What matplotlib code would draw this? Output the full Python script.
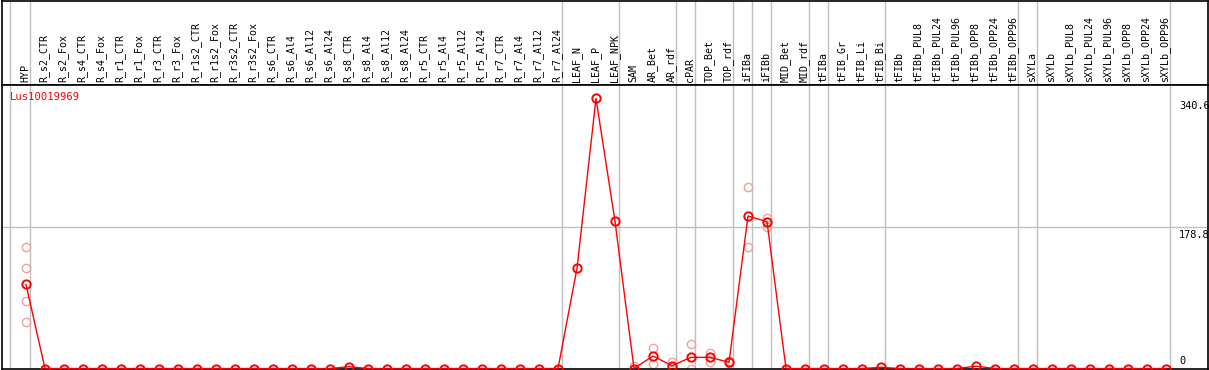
import matplotlib
matplotlib.use('Agg')
import matplotlib.pyplot as plt
import matplotlib.transforms as mtrans

# Sample names along the top
samples = ['HYP', 'R_s2_CTR', 'R_s2_Fox', 'R_s4_CTR', 'R_s4_Fox', 'R_r1_CTR', 'R_r1_Fox',
           'R_r3_CTR', 'R_r3_Fox', 'R_r1s2_CTR', 'R_r1s2_Fox', 'R_r3s2_CTR', 'R_r3s2_Fox',
           'R_s6_CTR', 'R_s6_Al4', 'R_s6_Al12', 'R_s6_Al24', 'R_s8_CTR', 'R_s8_Al4',
           'R_s8_Al12', 'R_s8_Al24', 'R_r5_CTR', 'R_r5_Al4', 'R_r5_Al12', 'R_r5_Al24',
           'R_r7_CTR', 'R_r7_Al4', 'R_r7_Al12', 'R_r7_Al24', 'LEAF_N', 'LEAF_P', 'LEAF_NPK',
           'SAM', 'AR_Bet', 'AR_rdf', 'cPAR', 'TOP_Bet', 'TOP_rdf', 'iFIBa', 'iFIBb',
           'MID_Bet', 'MID_rdf', 'tFIBa', 'tFIB_Gr', 'tFIB_Li', 'tFIB_Bi', 'tFIBb',
           'tFIBb_PUL8', 'tFIBb_PUL24', 'tFIBb_PUL96', 'tFIBb_OPP8', 'tFIBb_OPP24',
           'tFIBb_OPP96', 'sXYLa', 'sXYLb', 'sXYLb_PUL8', 'sXYLb_PUL24', 'sXYLb_PUL96',
           'sXYLb_OPP8', 'sXYLb_OPP24', 'sXYLb_OPP96']

# Mean expression per sample
means = [106.0, 0, 0, 0, 0, 0, 0,
         0, 0, 0, 0, 0, 0,
         0, 0, 0, 0, 2.3, 0,
         0, 0, 0, 0, 0, 0,
         0, 0, 0, 0, 126.3, 340.6, 185.6,
         0, 15.8, 3.5, 14.1, 14.1, 7.8, 192.3, 185.2,
         0, 0, 0, 0, 0, 1.5, 0,
         0, 0, 0, 3.0, 0,
         0, 0, 0, 0, 0, 0,
         0, 0, 0]

# Individual replicates
rep_samples = ['HYP', 'HYP', 'HYP', 'HYP', 'SAM', 'AR_Bet', 'AR_Bet', 'AR_rdf', 'AR_rdf',
               'cPAR', 'cPAR', 'TOP_Bet', 'TOP_Bet', 'TOP_rdf', 'TOP_rdf',
               'iFIBa', 'iFIBa', 'iFIBb', 'iFIBb']
rep_values = [152.8, 126.3, 85.0, 58.3, 3.5, 25.5, 5.3, 8.6, 1.5,
              30.5, 0.0, 19.2, 8.6, 9.0, 6.7,
              229.3, 153.6, 189.4, 178.8]

# last sample of each group (grey separators)
group_ends = ['HYP', 'R_r7_Al24', 'LEAF_NPK', 'AR_rdf', 'cPAR', 'TOP_rdf', 'iFIBa',
              'iFIBb', 'MID_rdf', 'tFIBa', 'tFIB_Bi', 'tFIBb_OPP96', 'sXYLa', 'sXYLb_OPP96']

gene = 'Lus10019969'
ymax = 340.6
ymid = 178.8

W, H = 1209, 370
fig = plt.figure(figsize=(W / 100, H / 100), dpi=100)
fig.patch.set_facecolor('white')

x = list(range(len(samples)))
xlim = ((1.5 - 26) / 19, (1208 - 26) / 19)
grey = '#c0c0c0'
mono = 'DejaVu Sans Mono'

ax_head = fig.add_axes([1.5 / W, (H - 85) / H, 1206.5 / W, 84.5 / H])
ax = fig.add_axes([1.5 / W, 1 / H, 1206.5 / W, 284 / H])

for a in (ax_head, ax):
    a.set_xlim(*xlim)
    a.set_xticks([])
    a.set_yticks([])
    for s in a.spines.values():
        s.set_color('black')
        s.set_linewidth(1.2)
    a.axvline(-0.84, color=grey, lw=1, zorder=0)
    for g in group_ends:
        a.axvline(samples.index(g) + 0.21, color=grey, lw=1, zorder=0)

# header labels
ax_head.set_ylim(0, 1)
for i, name in enumerate(samples):
    ax_head.text(i - 0.05, 0.03, name, rotation=90, ha='center', va='bottom',
                 fontsize=7.2, family=mono, color='black')

# main plot
ax.set_ylim(-0.6, 357.5)
ax.axhline(ymid, color=grey, lw=1, zorder=0)

rx = [samples.index(s) for s in rep_samples]
ax.plot(rx, rep_values, 'o', ms=6, mfc='none', mec='#f2a0a0', mew=1.0, zorder=2)
ax.plot(x, means, '-', color='red', lw=1, zorder=3)
ax.plot(x, means, 'o', ms=6, mfc='none', mec='red', mew=1.4, zorder=4)

ax.text(-0.87, 342, gene, color='red', fontsize=7.6, family=mono, va='center', ha='left')

lab_x = (1179 - 26) / 19
off_dn = mtrans.offset_copy(ax.transData, fig=fig, y=-3, units='dots')
off_up = mtrans.offset_copy(ax.transData, fig=fig, y=3, units='dots')
ax.text(lab_x, ymax, f'{ymax:g}', transform=off_dn, va='top', ha='left',
        fontsize=7.4, family=mono)
ax.text(lab_x, ymid, f'{ymid:g}', transform=off_dn, va='top', ha='left',
        fontsize=7.4, family=mono)
ax.text(lab_x, 0, '0', transform=off_up, va='bottom', ha='left',
        fontsize=7.4, family=mono)

fig.savefig('out.png', dpi=100)
